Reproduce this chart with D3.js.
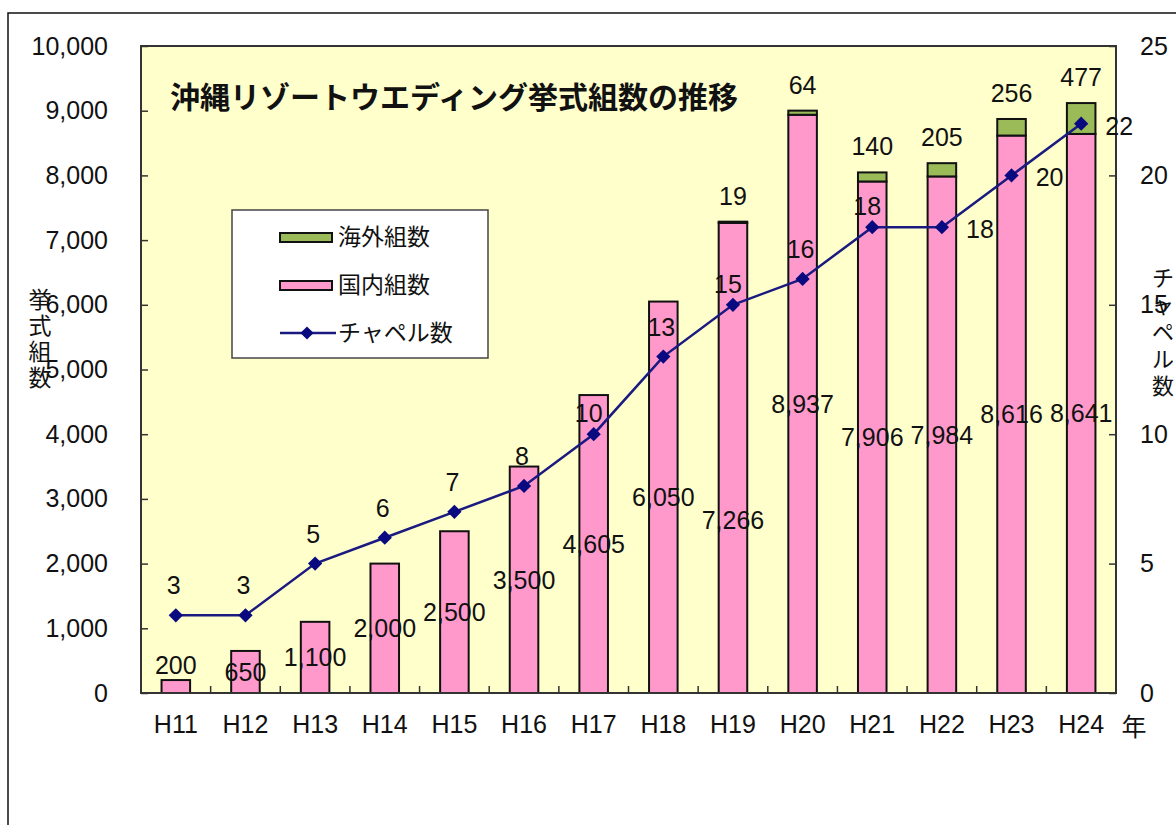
<!DOCTYPE html>
<html>
<head>
<meta charset="utf-8">
<script src="https://cdn.jsdelivr.net/npm/d3@7"></script>
<style>
  body { margin: 0; background: #fff; }
  text { font-family: "Liberation Sans", "Noto Sans CJK JP", sans-serif; fill: #111; }
</style>
</head>
<body>
<div id="chart"></div>
<script>
// data
var years = ["H11", "H12", "H13", "H14", "H15", "H16", "H17", "H18", "H19", "H20", "H21", "H22", "H23", "H24"]
var domestic = [200, 650, 1100, 2000, 2500, 3500, 4605, 6050, 7266, 8937, 7906, 7984, 8616, 8641]
var overseas = [0, 0, 0, 0, 0, 0, 0, 0, 19, 64, 140, 205, 256, 477]
var chapels = [3, 3, 5, 6, 7, 8, 10, 13, 15, 16, 18, 18, 20, 22]
var leftTicks = [0, 1000, 2000, 3000, 4000, 5000, 6000, 7000, 8000, 9000, 10000]
var rightTicks = [0, 5, 10, 15, 20, 25]

// where the chapel labels sit relative to the point (hand placed in the original)
var chapelLabelSide = ["above", "above", "above", "above", "above", "above", "low", "above", "low", "above", "low", "right", "right", "right"]
var sideOffset = {
    above: [-2, -30],
    low: [-5, -21],
    right: [38, 2]
}

var W = 1176, H = 825
var margin = { top: 46, right: 60, bottom: 132, left: 141 },
    width = 1116 - margin.left,
    height = 693 - margin.top

var svg = d3.select("#chart")
    .append("svg")
    .attr("width", W)
    .attr("height", H)

// outer frame (runs past the window on right and bottom)
svg.append("rect")
    .attr("x", 8).attr("y", 13)
    .attr("width", 1300).attr("height", 1000)
    .attr("fill", "#fff")
    .attr("stroke", "#111")
    .attr("stroke-width", 1.5)

var g = svg.append("g")
    .attr("transform", "translate(" + margin.left + "," + margin.top + ")")

var x = d3.scaleBand().domain(years).range([0, width]).padding(0)
var yL = d3.scaleLinear().domain([0, 10000]).range([height, 0])
var yR = d3.scaleLinear().domain([0, 25]).range([height, 0])
var barW = x.bandwidth() * 0.41

g.append("rect")
    .attr("width", width)
    .attr("height", height)
    .attr("fill", "#FFFFCC")

// title
g.append("text")
    .attr("x", 29)
    .attr("y", 62)
    .attr("font-size", 30)
    .attr("font-weight", "bold")
    .style("font-family", "'Noto Sans CJK JP', sans-serif")
    .text("沖縄リゾートウエディング挙式組数の推移")

// bars
var bars = years.map(function (y, i) {
    return { year: y, dom: domestic[i], ovs: overseas[i] }
})

g.selectAll(".dom")
    .data(bars)
    .enter()
    .append("rect")
    .attr("class", "dom")
    .attr("x", function (d) { return x(d.year) + (x.bandwidth() - barW) / 2 })
    .attr("y", function (d) { return yL(d.dom) })
    .attr("width", barW)
    .attr("height", function (d) { return yL(0) - yL(d.dom) })
    .attr("fill", "#FF99CC")
    .attr("stroke", "#111")
    .attr("stroke-width", 2)

g.selectAll(".ovs")
    .data(bars.filter(function (d) { return d.ovs > 0 }))
    .enter()
    .append("rect")
    .attr("class", "ovs")
    .attr("x", function (d) { return x(d.year) + (x.bandwidth() - barW) / 2 })
    .attr("y", function (d) { return yL(d.dom + d.ovs) })
    .attr("width", barW)
    .attr("height", function (d) { return yL(d.dom) - yL(d.dom + d.ovs) })
    .attr("fill", "#9BBB59")
    .attr("stroke", "#111")
    .attr("stroke-width", 2)

// x ticks at the category boundaries, pointing inward
g.selectAll(".xtick")
    .data(d3.range(1, years.length))
    .enter()
    .append("line")
    .attr("x1", function (i) { return i * x.step() })
    .attr("x2", function (i) { return i * x.step() })
    .attr("y1", height)
    .attr("y2", height - 7)
    .attr("stroke", "#333")
    .attr("stroke-width", 1.5)

// axes
var axL = g.append("g")
    .call(d3.axisLeft(yL).tickValues(leftTicks).tickFormat(d3.format(",")).tickSizeInner(-7).tickSizeOuter(0).tickPadding(33))
var axR = g.append("g")
    .attr("transform", "translate(" + width + ",0)")
    .call(d3.axisRight(yR).tickValues(rightTicks).tickSizeInner(-7).tickSizeOuter(0).tickPadding(24))
var axB = g.append("g")
    .attr("transform", "translate(0," + height + ")")
    .call(d3.axisBottom(x).tickSize(0).tickPadding(22))

;[axL, axR, axB].forEach(function (a) {
    a.select(".domain").remove()
    a.selectAll("line").attr("stroke", "#333").attr("stroke-width", 1.5)
    a.selectAll("text").attr("font-size", 25).attr("fill", "#111").style("font-family", null)
})

// plot border
g.append("rect")
    .attr("width", width)
    .attr("height", height)
    .attr("fill", "none")
    .attr("stroke", "#333")
    .attr("stroke-width", 2)

// domestic labels: middle of the pink part, above it when the bar is too short
g.selectAll(".domlab")
    .data(bars)
    .enter()
    .append("text")
    .attr("x", function (d) { return x(d.year) + x.bandwidth() / 2 })
    .attr("y", function (d) {
        var h = yL(0) - yL(d.dom)
        if (h < 30) return yL(d.dom) - 15
        if (d.year === "H19") return yL(d.dom / 2) + 62 // moved off the line in the original
        return yL(d.dom / 2)
    })
    .attr("text-anchor", "middle")
    .attr("dominant-baseline", "central")
    .attr("font-size", 25)
    .text(function (d) { return d3.format(",")(d.dom) })

// overseas labels above the bar
g.selectAll(".ovslab")
    .data(bars.filter(function (d) { return d.ovs > 0 }))
    .enter()
    .append("text")
    .attr("x", function (d) { return x(d.year) + x.bandwidth() / 2 })
    .attr("y", function (d) { return yL(d.dom + d.ovs) - 26 })
    .attr("text-anchor", "middle")
    .attr("dominant-baseline", "central")
    .attr("font-size", 25)
    .text(function (d) { return d.ovs })

// chapel line
var pts = years.map(function (y, i) { return { year: y, v: chapels[i], side: chapelLabelSide[i] } })
var line = d3.line()
    .x(function (d) { return x(d.year) + x.bandwidth() / 2 })
    .y(function (d) { return yR(d.v) })

g.append("path")
    .datum(pts)
    .attr("d", line)
    .attr("fill", "none")
    .attr("stroke", "#1a1a80")
    .attr("stroke-width", 2.5)

g.selectAll(".dia")
    .data(pts)
    .enter()
    .append("path")
    .attr("d", d3.symbol().type(d3.symbolDiamond2).size(130))
    .attr("transform", function (d) { return "translate(" + (x(d.year) + x.bandwidth() / 2) + "," + yR(d.v) + ")" })
    .attr("fill", "#0a0a80")

g.selectAll(".chlab")
    .data(pts)
    .enter()
    .append("text")
    .attr("x", function (d) { return x(d.year) + x.bandwidth() / 2 + sideOffset[d.side][0] })
    .attr("y", function (d) { return yR(d.v) + sideOffset[d.side][1] })
    .attr("text-anchor", "middle")
    .attr("dominant-baseline", "central")
    .attr("font-size", 25)
    .text(function (d) { return d.v })

// axis titles
var leftTitle = "挙式組数".split("")
svg.selectAll(".lt")
    .data(leftTitle)
    .enter()
    .append("text")
    .attr("x", 40)
    .attr("y", function (d, i) { return 300 + i * 26 })
    .attr("text-anchor", "middle")
    .attr("dominant-baseline", "central")
    .attr("font-size", 23)
    .text(function (d) { return d })

var rightTitle = "チャペル数".split("")
svg.selectAll(".rt")
    .data(rightTitle)
    .enter()
    .append("text")
    .attr("x", 1163)
    .attr("y", function (d, i) { return 278 + i * 27 })
    .attr("text-anchor", "middle")
    .attr("dominant-baseline", "central")
    .attr("font-size", 22)
    .text(function (d) { return d })

svg.append("text")
    .attr("x", 1134)
    .attr("y", 727)
    .attr("text-anchor", "middle")
    .attr("dominant-baseline", "central")
    .attr("font-size", 25)
    .text("年")

// legend
var lg = svg.append("g").attr("transform", "translate(232,210)")
lg.append("rect")
    .attr("width", 256).attr("height", 148)
    .attr("fill", "#fff")
    .attr("stroke", "#444")
    .attr("stroke-width", 1.5)

var legendItems = [
    { name: "海外組数", kind: "bar", color: "#9BBB59" },
    { name: "国内組数", kind: "bar", color: "#FF99CC" },
    { name: "チャペル数", kind: "line", color: "#1a1a80" }
]
var li = lg.selectAll(".li")
    .data(legendItems)
    .enter()
    .append("g")
    .attr("transform", function (d, i) { return "translate(0," + (27 + i * 48) + ")" })

li.filter(function (d) { return d.kind === "bar" })
    .append("rect")
    .attr("x", 48).attr("y", -4)
    .attr("width", 52).attr("height", 9)
    .attr("fill", function (d) { return d.color })
    .attr("stroke", "#111")
    .attr("stroke-width", 2)

var ll = li.filter(function (d) { return d.kind === "line" })
ll.append("line")
    .attr("x1", 48).attr("x2", 104)
    .attr("stroke", function (d) { return d.color })
    .attr("stroke-width", 2.5)
ll.append("path")
    .attr("d", d3.symbol().type(d3.symbolDiamond2).size(110))
    .attr("transform", "translate(75,0)")
    .attr("fill", "#0a0a80")

li.append("text")
    .attr("x", 106)
    .attr("dominant-baseline", "central")
    .attr("font-size", 23)
    .text(function (d) { return d.name })
</script>
</body>
</html>
